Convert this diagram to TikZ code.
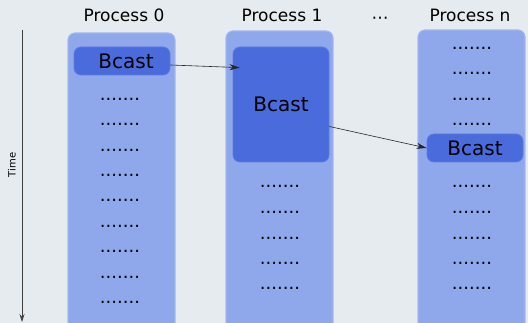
\documentclass[tikz,border=0pt]{standalone}
\usepackage{fontspec}
\setmainfont{DejaVu Sans}
\usetikzlibrary{arrows.meta,calc}
\definecolor{bgcol}{HTML}{E6EBF0}
\definecolor{lanecol}{HTML}{8FA8EC}
\definecolor{laneedge}{HTML}{A3B7F0}
\definecolor{callcol}{HTML}{4A6BDB}
\definecolor{calledge}{HTML}{5C7BE0}
\begin{document}
\begin{tikzpicture}[x=1pt,y=-1pt,
  lane/.style={fill=lanecol,draw=laneedge,line width=0.8pt,rounded corners=7pt},
  call/.style={fill=callcol,draw=calledge,line width=0.8pt,rounded corners=7pt,
    inner sep=0pt,font=\fontsize{20}{24}\selectfont},
  title/.style={font=\fontsize{17}{20}\selectfont,inner sep=0pt},
  filler/.style={font=\fontsize{18}{20}\selectfont,inner sep=0pt,anchor=base},
  msg/.style={-{Stealth[length=10pt,width=6pt]},line width=0.6pt,draw=black!85}]
% page and background
\fill[bgcol] (0,0) rectangle (528,323);
\useasboundingbox (0,0) rectangle (528,323);
\clip (0,0) rectangle (528,323);

% time axis
\coordinate (t0) at (22,30);
\coordinate (t1) at (22,322);
\draw[-{Stealth[length=8pt,width=5pt]},line width=0.7pt,draw=black!75] (t0) -- (t1);
\node[rotate=90,font=\fontsize{10}{12}\selectfont,inner sep=0pt] (time) at (12,165) {Time};

% process lanes
\fill[lane] (68,33) rectangle (175,340);
\fill[lane] (226,31) rectangle (333,340);
\fill[lane] (418,30) rectangle (525,340);
\draw[laneedge,line width=0.8pt,rounded corners=7pt] (68,340) |- (175,33) -- (175,340);
\draw[laneedge,line width=0.8pt,rounded corners=7pt] (226,340) |- (333,31) -- (333,340);
\draw[laneedge,line width=0.8pt,rounded corners=7pt] (418,340) |- (525,30) -- (525,340);

% headings
\node[title] (h0) at (124,15) {Process 0};
\node[title] (h1) at (282,15) {Process 1};
\node[title,anchor=base] (hd) at (380,24) {⋯};
\node[title] (hn) at (470,15) {Process n};

% broadcast calls
\node[call,minimum width=96pt,minimum height=28pt] (b0) at (122,61) {\hspace{8pt}Bcast};
\node[call,minimum width=96pt,minimum height=115pt] (b1) at (281,104.5) {Bcast};
\node[call,minimum width=96pt,minimum height=28pt] (bn) at (475,148) {Bcast};

% other work in each process
\foreach \yy [count=\i] in {101,126,152,177,202,228,253,279,304}
  \node[filler] (p0-\i) at (120,\yy) {.......};
\foreach \yy [count=\i] in {188,214,240,265,290}
  \node[filler] (p1-\i) at (280,\yy) {.......};
\foreach \yy [count=\i] in {50,75,101,126,188,214,240,265,290}
  \node[filler] (pn-\i) at (472,\yy) {.......};

% messages
\draw[msg] ([yshift=-4pt]b0.east) -- ([xshift=7pt,yshift=-21pt]b1.north west);
\draw[msg] ([yshift=-22pt]b1.east) -- (bn.west);
\end{tikzpicture}
\end{document}
